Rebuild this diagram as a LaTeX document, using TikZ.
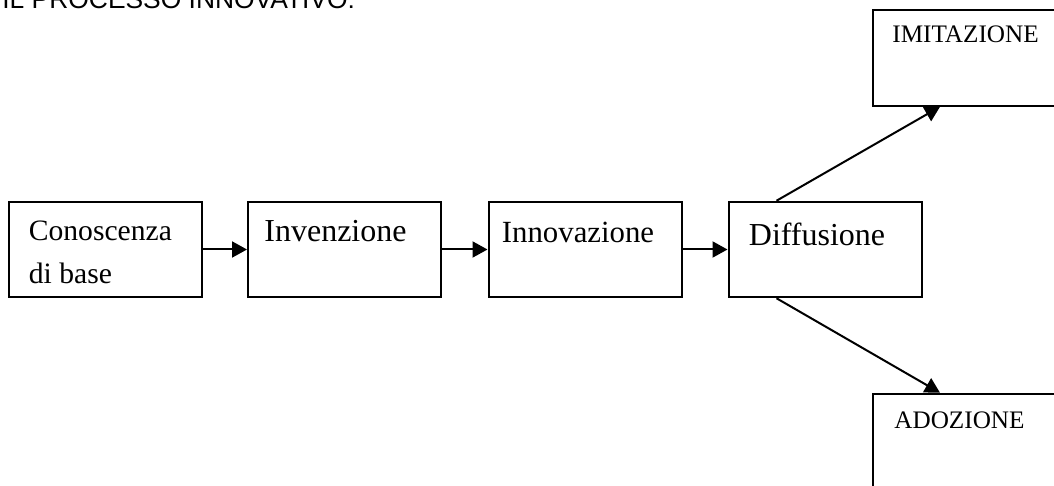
\documentclass[tikz,border=0pt]{standalone}
\usepackage{fontspec}
\setmainfont{Liberation Serif}
\newfontfamily\titolofont{Liberation Sans}
\usetikzlibrary{arrows.meta, calc}
\tikzset{
  blocco/.style={draw=black, line width=1pt, minimum width=96.5pt, minimum height=47.75pt, inner sep=0pt},
  testo/.style={anchor=base west, inner sep=0pt, align=left},
  freccia/.style={-{Triangle[length=7.5pt, width=8pt]}, line width=1pt},
}
\newcommand{\piccolo}{\fontsize{14.8}{21.7}\selectfont}
\newcommand{\medio}{\fontsize{15.4}{18}\selectfont}
\newcommand{\grande}{\fontsize{16}{19}\selectfont}
\newcommand{\maiuscolo}{\fontsize{12.6}{15}\selectfont}

\begin{document}
\begin{tikzpicture}[x=0.5pt, y=-0.5pt]
  \useasboundingbox (0,0) rectangle (1054,486);
  % titolo, tagliato dal bordo
  \node[testo, font=\titolofont\fontsize{13.2}{15}\selectfont] (titolo) at (2,9) {IL PROCESSO INNOVATIVO:};

  % catena principale
  \node[blocco] (conoscenza) at (105,249.5) {};
  \node[blocco] (invenzione) at (344.5,249.5) {};
  \node[blocco] (innovazione) at (585,249.5) {};
  \node[blocco] (diffusione) at (825,249.5) {};
  % esiti
  \node[blocco] (imitazione) at (969.5,58) {};
  \node[blocco] (adozione) at (969.5,441.5) {};

  % testi (base dell'ultima riga)
  \node[testo, font=\piccolo] (tconoscenza) at ($(conoscenza.north west)+(21,83)$) {Conoscenza\\di base};
  \node[testo, font=\grande] (tinvenzione) at ($(invenzione.north west)+(17,41)$) {Invenzione};
  \node[testo, font=\medio] (tinnovazione) at ($(innovazione.north west)+(14,42)$) {Innovazione};
  \node[testo, font=\grande] (tdiffusione) at ($(diffusione.north west)+(21,45)$) {Diffusione};
  \node[testo, font=\maiuscolo] (timitazione) at ($(imitazione.north west)+(20,33)$) {IMITAZIONE};
  \node[testo, font=\maiuscolo] (tadozione) at ($(adozione.north west)+(22,36)$) {ADOZIONE};

  \draw[freccia] (conoscenza) -- (invenzione);
  \draw[freccia] (invenzione) -- (innovazione);
  \draw[freccia] (innovazione) -- (diffusione);
  \draw[freccia] ($(diffusione.north west)+(49,0)$) -- ($(imitazione.south west)+(68,0)$);
  \draw[freccia] ($(diffusione.south west)+(49,0)$) -- ($(adozione.north west)+(68,0)$);
\end{tikzpicture}
\end{document}
